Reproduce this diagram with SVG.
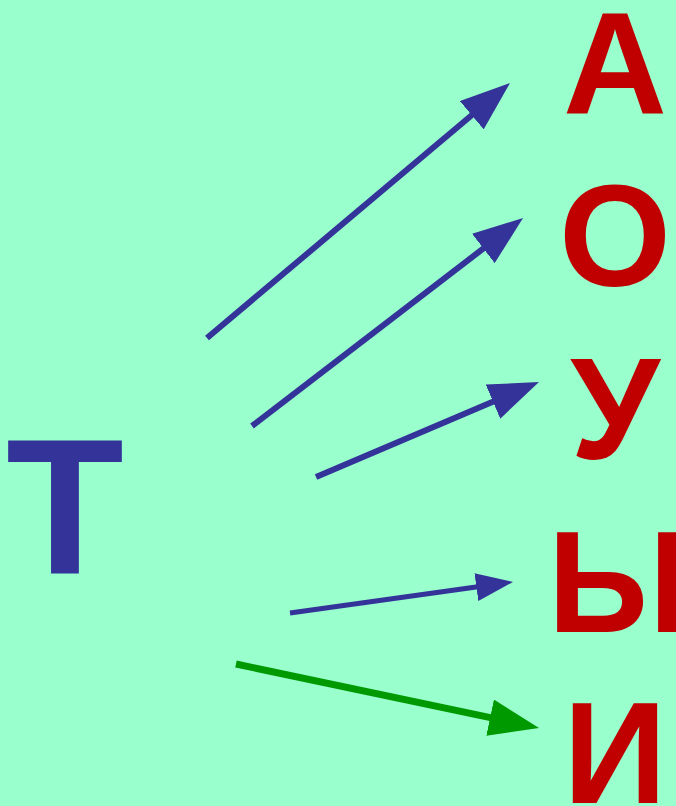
<svg xmlns="http://www.w3.org/2000/svg" width="676" height="806" viewBox="0 0 676 806">
  <style>
    .lt { font-family: "Liberation Sans", Arial, sans-serif; font-weight: bold; text-anchor: middle; }
    .src { fill: #333399; font-size: 193px; }
    .dst { fill: #C00000; font-size: 144px; }
    .arr { fill: none; stroke: #333399; stroke-width: 6; }
    .arr-s { fill: none; stroke: #333399; stroke-width: 5; }
    .arr-g { fill: none; stroke: #009900; stroke-width: 7; }
  </style>
  <defs>
    <marker id="hb" markerUnits="userSpaceOnUse" viewBox="0 0 50 37" markerWidth="50" markerHeight="37" refX="10" refY="18.5" orient="auto">
      <path d="M0,0 L50,18.5 L0,37 z" fill="#333399"/>
    </marker>
    <marker id="hs" markerUnits="userSpaceOnUse" viewBox="0 0 37 28" markerWidth="37" markerHeight="28" refX="7" refY="14" orient="auto">
      <path d="M0,0 L37,14 L0,28 z" fill="#333399"/>
    </marker>
    <marker id="hg" markerUnits="userSpaceOnUse" viewBox="0 0 50 37" markerWidth="50" markerHeight="37" refX="10" refY="18.5" orient="auto">
      <path d="M0,0 L50,18.5 L0,37 z" fill="#009900"/>
    </marker>
  </defs>
  <rect width="676" height="806" fill="#99FFCC"/>
  <g id="connectors">
    <line class="arr" x1="207" y1="338" x2="479.4" y2="108.8" marker-end="url(#hb)"/>
    <line class="arr" x1="252" y1="426" x2="491.3" y2="242.4" marker-end="url(#hb)"/>
    <line class="arr" x1="316" y1="477" x2="502.2" y2="397.7" marker-end="url(#hb)"/>
    <line class="arr-s" x1="290" y1="613" x2="483.3" y2="586.1" marker-end="url(#hs)"/>
    <line class="arr-g" x1="236" y1="664" x2="499.9" y2="719.7" marker-end="url(#hg)"/>
  </g>
  <g id="node-T"><text class="lt src" x="65" y="573">Т</text></g>
  <g id="node-A"><text class="lt dst" x="615" y="113">А</text></g>
  <g id="node-O"><text class="lt dst" x="615" y="286">О</text></g>
  <g id="node-U"><text class="lt dst" x="615" y="459">У</text></g>
  <g id="node-Y"><text class="lt dst" x="618" y="632">Ы</text></g>
  <g id="node-I"><text class="lt dst" x="615" y="803">И</text></g>
</svg>
